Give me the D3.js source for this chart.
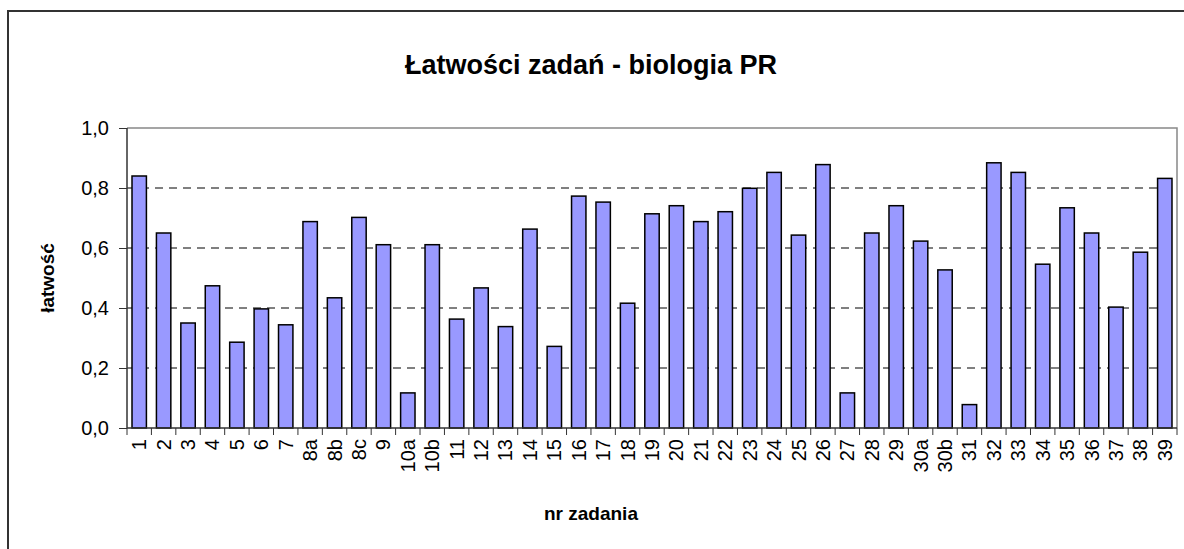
<!DOCTYPE html>
<html>
<head>
<meta charset="utf-8">
<script src="https://cdn.jsdelivr.net/npm/d3@7"></script>
<style>
  body { margin: 0; background: #fff; }
  text { font-family: "Liberation Sans", Arial, sans-serif; fill: #000; }
</style>
</head>
<body>
<div id="containerChart"></div>
<script>

// numery zadan (kategorie)
var zadania = ["1", "2", "3", "4", "5", "6", "7", "8a", "8b", "8c", "9", "10a", "10b",
	"11", "12", "13", "14", "15", "16", "17", "18", "19", "20", "21", "22", "23", "24",
	"25", "26", "27", "28", "29", "30a", "30b", "31", "32", "33", "34", "35", "36", "37", "38", "39"];

// latwosci
var latwosci = [0.84, 0.65, 0.35, 0.474, 0.286, 0.397, 0.344, 0.688, 0.434, 0.702, 0.611, 0.117, 0.611,
	0.363, 0.467, 0.338, 0.663, 0.272, 0.773, 0.753, 0.416, 0.714, 0.741, 0.688, 0.721, 0.799, 0.852,
	0.643, 0.878, 0.117, 0.65, 0.741, 0.623, 0.527, 0.078, 0.884, 0.852, 0.546, 0.734, 0.65, 0.403, 0.586, 0.832];

var yTicks = [0, 0.2, 0.4, 0.6, 0.8, 1.0];
var gridTicks = [0.2, 0.4, 0.6, 0.8];

var title = "Łatwości zadań - biologia PR";
var xTitle = "nr zadania";
var yTitle = "łatwość";

function drawChart() {

	// wymiary
	var width = 1184;
	var height = 549;
	var leftMargin = 127;
	var rightMargin = 7;
	var topMargin = 128;
	var bottomMargin = 121;
	var centerX = 591;

	var svg = d3.select("#containerChart")
		.append("svg")
		.attr("width", width)
		.attr("height", height);

	// ramka wykresu
	svg.append("rect")
		.attr("x", 8)
		.attr("y", 11)
		.attr("width", 1200)
		.attr("height", 560)
		.style("fill", "none")
		.style("stroke", "#333")
		.style("stroke-width", 2);

	var xScale = d3.scaleBand()
		.domain(zadania)
		.range([leftMargin, width - rightMargin])
		.paddingInner(0.41)
		.paddingOuter(0.205);

	var yScale = d3.scaleLinear()
		.domain([0, 1])
		.range([height - bottomMargin, topMargin]);

	// linie siatki
	svg.selectAll(".grid")
		.data(gridTicks)
		.enter()
		.append("line")
		.attr("class", "grid")
		.attr("x1", leftMargin)
		.attr("x2", width - rightMargin)
		.attr("y1", function(d) { return yScale(d); })
		.attr("y2", function(d) { return yScale(d); })
		.style("stroke", "#000")
		.style("stroke-width", 1)
		.style("stroke-dasharray", "8,6");

	// gorna i prawa krawedz obszaru
	svg.append("path")
		.attr("d", "M" + leftMargin + "," + topMargin + "H" + (width - rightMargin) + "V" + (height - bottomMargin))
		.style("fill", "none")
		.style("stroke", "#888")
		.style("stroke-width", 1.5);

	// slupki
	svg.selectAll(".bar")
		.data(latwosci)
		.enter()
		.append("rect")
		.attr("class", "bar")
		.attr("x", function(d, i) { return xScale(zadania[i]); })
		.attr("y", function(d) { return yScale(d); })
		.attr("width", xScale.bandwidth())
		.attr("height", function(d) { return yScale(0) - yScale(d); })
		.style("fill", "#9999ff")
		.style("stroke", "#000")
		.style("stroke-width", 1.5);

	// os Y
	var yAxis = d3.axisLeft(yScale)
		.tickValues(yTicks)
		.tickSize(8)
		.tickPadding(10)
		.tickFormat(function(d) { return d3.format(".1f")(d).replace(".", ","); });

	var gy = svg.append("g")
		.attr("transform", "translate(" + leftMargin + ",0)")
		.call(yAxis);
	gy.select(".domain").attr("d", "M0," + topMargin + "V" + (height - bottomMargin)).style("stroke", "#333").style("stroke-width", 1.5);
	gy.selectAll(".tick line").style("stroke", "#333");
	gy.selectAll("text").style("font-size", "20px");

	// os X - kreski miedzy kategoriami
	var step = xScale.step();
	var gx = svg.append("g")
		.attr("transform", "translate(0," + (height - bottomMargin) + ")");
	gx.append("line")
		.attr("x1", leftMargin)
		.attr("x2", width - rightMargin)
		.style("stroke", "#333")
		.style("stroke-width", 1.5);
	gx.selectAll(".xtick")
		.data(zadania.concat(["end"]))
		.enter()
		.append("line")
		.attr("class", "xtick")
		.attr("x1", function(d, i) { return leftMargin + i * step; })
		.attr("x2", function(d, i) { return leftMargin + i * step; })
		.attr("y1", 0)
		.attr("y2", 7)
		.style("stroke", "#333");

	gx.selectAll(".xlabel")
		.data(zadania)
		.enter()
		.append("text")
		.attr("class", "xlabel")
		.attr("transform", function(d) {
			return "translate(" + (xScale(d) + xScale.bandwidth() / 2) + ",11) rotate(-90)";
		})
		.attr("dy", "0.35em")
		.style("text-anchor", "end")
		.style("font-size", "20px")
		.text(function(d) { return d; });

	// tytuly osi
	svg.append("text")
		.attr("x", centerX)
		.attr("y", 520)
		.style("text-anchor", "middle")
		.style("font-size", "19px")
		.style("font-weight", "bold")
		.text(xTitle);

	svg.append("text")
		.attr("transform", "translate(54," + ((topMargin + height - bottomMargin) / 2) + ") rotate(-90)")
		.style("text-anchor", "middle")
		.style("font-size", "19px")
		.style("font-weight", "bold")
		.text(yTitle);

	// tytul wykresu
	svg.append("text")
		.attr("x", centerX)
		.attr("y", 74)
		.style("text-anchor", "middle")
		.style("font-size", "27px")
		.style("font-weight", "bold")
		.text(title);
};

drawChart();
</script>
</body>
</html>
